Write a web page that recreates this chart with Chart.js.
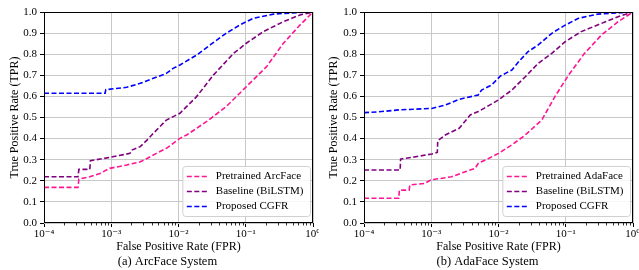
<!DOCTYPE html>
<html>
<head>
<meta charset="utf-8">
<script src="https://cdn.jsdelivr.net/npm/chart.js@4.4.1/dist/chart.umd.min.js"></script>
<style>
  html, body { margin: 0; padding: 0; background: #fff; }
  #wrap { position: relative; width: 639px; height: 270px; }
  canvas { position: absolute; top: 0; }
</style>
</head>
<body>
<div id="wrap">
  <canvas id="arc" width="319" height="270" style="left:0"></canvas>
  <canvas id="ada" width="320" height="270" style="left:319px"></canvas>
</div>
<script>
// legend labels
var arcLabels = ["Pretrained ArcFace", "Baseline (BiLSTM)", "Proposed CGFR"];
var adaLabels = ["Pretrained AdaFace", "Baseline (BiLSTM)", "Proposed CGFR"];

// (a) ArcFace system
var arcPreFpr = [1e-4, 3.2e-4, 3.3e-4, 4.8e-4, 6.8e-4, 9.5e-4, 1.7e-3, 2.7e-3, 3.4e-3, 4.7e-3, 6.6e-3, 1.05e-2, 1.32e-2, 2.6e-2, 5.1e-2, 0.102, 0.204, 0.363, 0.64, 1];
var arcPreTpr = [0.169, 0.169, 0.208, 0.219, 0.235, 0.259, 0.275, 0.29, 0.306, 0.33, 0.354, 0.401, 0.417, 0.48, 0.551, 0.646, 0.741, 0.852, 0.938, 1];
var arcBaseFpr = [1e-4, 3.2e-4, 3.3e-4, 4.8e-4, 4.9e-4, 9.5e-4, 1.9e-3, 2.0e-3, 2.7e-3, 3.4e-3, 4.0e-3, 6.6e-3, 1.05e-2, 1.86e-2, 3.3e-2, 6.6e-2, 0.102, 0.182, 0.363, 0.64, 1];
var arcBaseTpr = [0.219, 0.219, 0.254, 0.254, 0.295, 0.311, 0.33, 0.345, 0.362, 0.393, 0.417, 0.488, 0.52, 0.599, 0.701, 0.804, 0.852, 0.907, 0.954, 0.986, 1];
var arcCgfrFpr = [1e-4, 8.1e-4, 8.3e-4, 1.7e-3, 2.7e-3, 6.6e-3, 8.3e-3, 1.05e-2, 1.86e-2, 2.95e-2, 5.1e-2, 8.1e-2, 0.129, 0.257, 0.64, 1];
var arcCgfrTpr = [0.615, 0.615, 0.632, 0.643, 0.662, 0.709, 0.733, 0.749, 0.796, 0.844, 0.899, 0.938, 0.97, 0.99, 0.998, 1];

// (b) AdaFace system
var adaPreFpr = [1e-4, 3.3e-4, 3.35e-4, 4.7e-4, 4.8e-4, 8.1e-4, 9.8e-4, 2.0e-3, 3.2e-3, 4.5e-3, 5.0e-3, 7.1e-3, 1e-2, 1.58e-2, 2.5e-2, 4.4e-2, 6.9e-2, 0.11, 0.19, 0.34, 0.6, 1];
var adaPreTpr = [0.117, 0.117, 0.156, 0.156, 0.18, 0.188, 0.204, 0.219, 0.243, 0.259, 0.283, 0.306, 0.33, 0.37, 0.417, 0.488, 0.599, 0.701, 0.804, 0.891, 0.954, 1];
var adaBaseFpr = [1e-4, 3.45e-4, 3.5e-4, 5.9e-4, 1.02e-3, 1.23e-3, 1.25e-3, 1.62e-3, 2.6e-3, 3.8e-3, 5.0e-3, 1e-2, 1.58e-2, 2.5e-2, 3.9e-2, 6.2e-2, 9.8e-2, 0.17, 0.34, 0.6, 1];
var adaBaseTpr = [0.251, 0.251, 0.303, 0.314, 0.327, 0.335, 0.39, 0.417, 0.449, 0.512, 0.528, 0.583, 0.63, 0.693, 0.757, 0.804, 0.859, 0.907, 0.946, 0.978, 1];
var adaCgfrFpr = [1e-4, 1.66e-4, 3.3e-4, 1.02e-3, 1.62e-3, 2.6e-3, 5.0e-3, 5.6e-3, 7.9e-3, 1.07e-2, 1.58e-2, 2.0e-2, 2.75e-2, 3.9e-2, 6.2e-2, 9.8e-2, 0.155, 0.30, 1];
var adaCgfrTpr = [0.523, 0.527, 0.536, 0.543, 0.559, 0.586, 0.607, 0.63, 0.654, 0.697, 0.725, 0.765, 0.812, 0.844, 0.899, 0.938, 0.97, 0.99, 1];

// axis ticks
var xTicks = [1e-4, 1e-3, 1e-2, 1e-1, 1];
var yTicks = [0, 0.1, 0.2, 0.3, 0.4, 0.5, 0.6, 0.7, 0.8, 0.9, 1];

var colors = ["#ff1493", "#800080", "#0000ff"];
var serif = "'Liberation Serif', 'DejaVu Serif', serif";
var sup = { "-": "\u207b", "0": "\u2070", "1": "\u00b9", "2": "\u00b2", "3": "\u00b3", "4": "\u2074" };

Chart.defaults.font.family = serif;
Chart.defaults.color = "#000";

function toPoints(xs, ys) {
  return xs.map(function (x, i) { return { x: x, y: ys[i] }; });
}

// frame, minor ticks, legend box and caption
var extras = {
  id: "extras",
  afterDraw: function (chart, args, opts) {
    var a = chart.chartArea, ctx = chart.ctx, xs = chart.scales.x;
    var l = Math.round(a.left), r = Math.round(a.right), t = Math.round(a.top), b = Math.round(a.bottom);
    ctx.save();
    ctx.strokeStyle = "#000";
    ctx.lineWidth = 0.8;
    ctx.beginPath();
    for (var e = -4; e < 0; e++) {
      for (var m = 2; m < 10; m++) {
        var px = Math.round(xs.getPixelForValue(m * Math.pow(10, e))) + 0.5;
        ctx.moveTo(px, b);
        ctx.lineTo(px, b + 2.5);
      }
    }
    ctx.stroke();
    ctx.lineWidth = 1;
    ctx.strokeRect(l + 0.5, t + 0.5, r - l - 1, b - t - 1);

    // legend
    var ds = chart.data.datasets;
    ctx.font = "11px " + serif;
    var tw = 0;
    ds.forEach(function (d) { tw = Math.max(tw, ctx.measureText(d.label).width); });
    var w = 33 + tw + 7, h = 15 * ds.length + 5;
    var x0 = r - 2.5 - w, y0 = b - 6.5 - h;
    ctx.beginPath();
    ctx.roundRect(x0, y0, w, h, 3);
    ctx.fillStyle = "rgba(255,255,255,0.85)";
    ctx.fill();
    ctx.strokeStyle = "#d0d0d0";
    ctx.stroke();
    ds.forEach(function (d, i) {
      var y = y0 + 10 + i * 15;
      ctx.beginPath();
      ctx.setLineDash([5, 2.5]);
      ctx.strokeStyle = d.borderColor;
      ctx.lineWidth = 1.6;
      ctx.moveTo(x0 + 4, y);
      ctx.lineTo(x0 + 26, y);
      ctx.stroke();
      ctx.setLineDash([]);
      ctx.fillStyle = "#000";
      ctx.textBaseline = "middle";
      ctx.textAlign = "left";
      ctx.fillText(d.label, x0 + 33, y);
    });

    // caption under the axis
    ctx.font = "12.5px " + serif;
    ctx.textAlign = "center";
    ctx.textBaseline = "middle";
    ctx.fillText(opts.caption, (a.left + a.right) / 2 - 11, 262);
    ctx.restore();
  }
};

function makeChart(id, labels, fprs, tprs, caption, yWidth) {
  var datasets = labels.map(function (lab, i) {
    return {
      label: lab,
      data: toPoints(fprs[i], tprs[i]),
      borderColor: colors[i],
      borderWidth: 1.6,
      borderDash: [5, 2.5],
      pointRadius: 0,
      tension: 0,
      fill: false
    };
  });
  new Chart(document.getElementById(id), {
    type: "line",
    data: { datasets: datasets },
    plugins: [extras],
    options: {
      responsive: false,
      animation: false,
      layout: { padding: { top: 12, right: 6, bottom: 16, left: 0 } },
      scales: {
        x: {
          type: "logarithmic",
          min: 1e-4,
          max: 1,
          afterBuildTicks: function (s) { s.ticks = xTicks.map(function (v) { return { value: v }; }); },
          afterFit: function (s) { s.height = 31; s.paddingLeft = 0; s.paddingRight = 0; },
          ticks: {
            autoSkip: false,
            maxRotation: 0,
            padding: 1,
            font: { size: 11 },
            color: "#000",
            callback: function (v) {
              var e = String(Math.round(Math.log10(v)));
              return "10" + e.split("").map(function (c) { return sup[c]; }).join("");
            }
          },
          grid: { color: "#c8c8c8", lineWidth: 1, tickLength: 4, tickColor: "#000" },
          border: { display: false },
          title: { display: true, text: "False Positive Rate (FPR)", font: { size: 12 }, padding: 0 }
        },
        y: {
          min: 0,
          max: 1,
          afterBuildTicks: function (s) { s.ticks = yTicks.map(function (v) { return { value: v }; }); },
          afterFit: function (s) { s.width = yWidth; s.paddingTop = 0; s.paddingBottom = 0; },
          ticks: {
            padding: 3,
            font: { size: 11 },
            color: "#000",
            callback: function (v) { return v.toFixed(1); }
          },
          grid: { color: "#c8c8c8", lineWidth: 1, tickLength: 4, tickColor: "#000" },
          border: { display: false },
          title: { display: true, text: "True Positive Rate (TPR)", font: { size: 12 }, padding: { top: 8, bottom: 0 } }
        }
      },
      plugins: {
        legend: { display: false },
        tooltip: { enabled: false },
        extras: { caption: caption }
      }
    }
  });
}

makeChart("arc", arcLabels, [arcPreFpr, arcBaseFpr, arcCgfrFpr], [arcPreTpr, arcBaseTpr, arcCgfrTpr], "(a) ArcFace System", 44);
makeChart("ada", adaLabels, [adaPreFpr, adaBaseFpr, adaCgfrFpr], [adaPreTpr, adaBaseTpr, adaCgfrTpr], "(b) AdaFace System", 45);
</script>
</body>
</html>
